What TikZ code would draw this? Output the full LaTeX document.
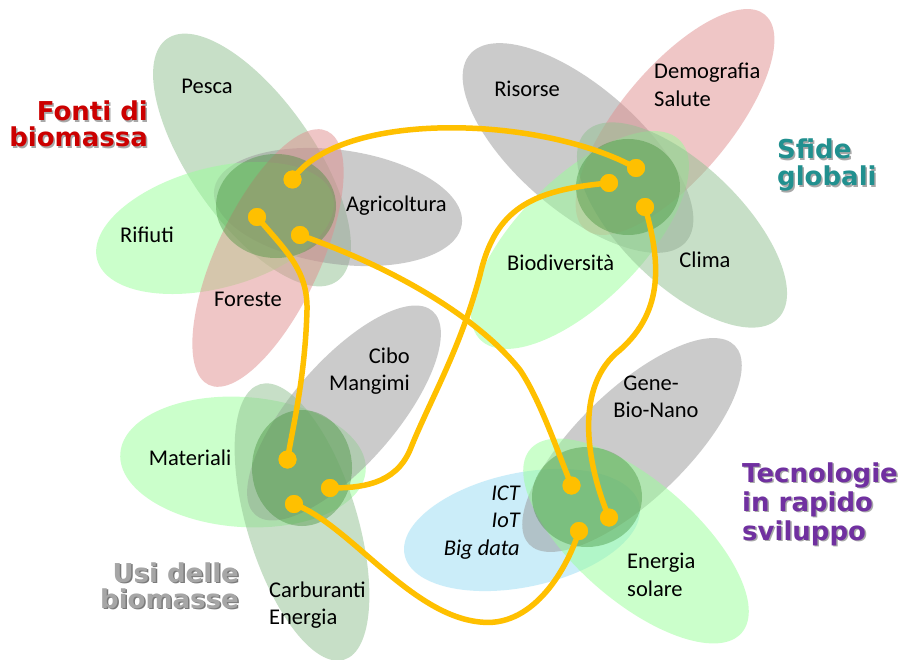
\documentclass[tikz,border=0pt]{standalone}
\usepackage{fontspec}
\setmainfont{Carlito}
\newfontfamily\ttlfont{DejaVu Sans}
\definecolor{cgray}{HTML}{999999}
\definecolor{cgreen}{HTML}{99FF99}
\definecolor{cpink}{HTML}{E08F8F}
\definecolor{csage}{HTML}{91C191}
\definecolor{cblue}{HTML}{99DDF5}
\definecolor{cblob}{HTML}{3A8A30}
\definecolor{cyel}{HTML}{FFC000}
\definecolor{tred}{HTML}{CC0000}
\definecolor{tteal}{HTML}{21908F}
\definecolor{tpurple}{HTML}{7030A0}
\definecolor{tgray}{HTML}{A6A6A6}
\definecolor{tshadow}{HTML}{A8A8A8}
\definecolor{tshadowdk}{HTML}{7A7A7A}
\tikzset{
  lbl/.style={font=\fontsize{22.5}{27}\selectfont, inner sep=0pt, text=black},
  lbli/.style={font=\fontsize{22.5}{27}\selectfont\itshape, inner sep=0pt, text=black},
  ttl/.style={font=\ttlfont\bfseries\fontsize{26}{28}\selectfont, inner sep=0pt},
  conn/.style={draw=cyel, line width=5.5pt, line cap=round},
  dot/.style={circle, fill=cyel, minimum size=18pt, inner sep=0pt},
  oval/.style={fill opacity=0.5},
  blob/.style={fill=cblob, fill opacity=0.38},
}
\begin{document}
\begin{tikzpicture}[x=1pt,y=-1pt]
\useasboundingbox (0,0) rectangle (901,660);
\fill[white] (0,0) rectangle (901,660);

% ---------- cluster 1: Fonti di biomassa ----------
\fill[csage, oval, rotate around={-55:(252,160)}] (252,160) ellipse [x radius=148, y radius=62];
\fill[cgray, oval, rotate around={-8:(338,207)}] (338,207) ellipse [x radius=125, y radius=57];
\fill[cgreen, oval, rotate around={15:(215,228)}] (215,228) ellipse [x radius=122, y radius=60];
\fill[cpink, oval, rotate around={65:(268,258)}] (268,258) ellipse [x radius=140, y radius=52];
\fill[blob] (276,206) ellipse [x radius=60, y radius=52];

% ---------- cluster 2: Sfide globali ----------
\fill[cgray, oval, rotate around={-41:(578,148)}] (578,148) ellipse [x radius=143, y radius=62];
\fill[cpink, oval, rotate around={50:(675,122)}] (675,122) ellipse [x radius=140, y radius=55];
\fill[cgreen, oval, rotate around={45:(580,240)}] (580,240) ellipse [x radius=141, y radius=62];
\fill[csage, oval, rotate around={-44:(682,225)}] (682,225) ellipse [x radius=134, y radius=60];
\fill[blob] (628,187) ellipse [x radius=52, y radius=48];

% ---------- cluster 3: Usi delle biomasse ----------
\fill[cgreen, oval, rotate around={-4:(243,462)}] (243,462) ellipse [x radius=123, y radius=65];
\fill[cgray, oval, rotate around={49:(344,413)}] (344,413) ellipse [x radius=135, y radius=52];
\fill[csage, oval, rotate around={-73:(302,522)}] (302,522) ellipse [x radius=144, y radius=55];
\fill[blob] (302,468) ellipse [x radius=50, y radius=58];

% ---------- cluster 4: Tecnologie ----------
\fill[cblue, oval, rotate around={12:(522,530)}] (522,530) ellipse [x radius=120, y radius=57];
\fill[cgray, oval, rotate around={44:(632,445)}] (632,445) ellipse [x radius=143, y radius=55];
\fill[cgreen, oval, rotate around={-41:(636,541)}] (636,541) ellipse [x radius=140, y radius=60];
\fill[blob] (587,497) ellipse [x radius=55, y radius=50];

% ---------- labels ----------
\node[lbl, anchor=base] (pesca) at (207,94) {Pesca};
\node[lbl, anchor=base west] (agri) at (346,212) {Agricoltura};
\node[lbl, anchor=base] (rifiuti) at (147,243) {Rifiuti};
\node[lbl, anchor=base east] (foreste) at (282,306) {Foreste};
\node[lbl, anchor=base] (risorse) at (527,97) {Risorse};
\node[lbl, anchor=base west] (demo) at (654,79) {Demografia};
\node[lbl, anchor=base west] (salute) at (654,107) {Salute};
\node[lbl, anchor=base west] (biodiv) at (507,270) {Biodiversità};
\node[lbl, anchor=base] (clima) at (705,267) {Clima};
\node[lbl, anchor=base east] (cibo) at (410,363) {Cibo};
\node[lbl, anchor=base east] (mangimi) at (410,390) {Mangimi};
\node[lbl, anchor=base] (materiali) at (190,465) {Materiali};
\node[lbl, anchor=base west] (carbur) at (269,597) {Carburanti};
\node[lbl, anchor=base west] (energia1) at (269,624) {Energia};
\node[lbl, anchor=base] (gene) at (651,390) {Gene-};
\node[lbl, anchor=base] (bionano) at (656,417) {Bio-Nano};
\node[lbli, anchor=base east] (ict) at (520,500) {ICT};
\node[lbli, anchor=base east] (iot) at (520,527) {IoT};
\node[lbli, anchor=base east] (bigdata) at (520,555) {Big data};
\node[lbl, anchor=base west] (energia2) at (627,568) {Energia};
\node[lbl, anchor=base west] (solare) at (627,596) {solare};

% ---------- titles (with shadow) ----------
\node[ttl, text=tshadow, anchor=base east] (t1as) at (149.5,122.5) {Fonti di};
\node[ttl, text=tshadow, anchor=base east] (t1bs) at (149.5,148.5) {biomassa};
\node[ttl, text=tred, anchor=base east] (t1a) at (148,121) {Fonti di};
\node[ttl, text=tred, anchor=base east] (t1b) at (148,147) {biomassa};

\node[ttl, text=tshadow, anchor=base west] (t2as) at (778.5,160.5) {Sfide};
\node[ttl, text=tshadow, anchor=base west] (t2bs) at (778.5,187.5) {globali};
\node[ttl, text=tteal, anchor=base west] (t2a) at (777,159) {Sfide};
\node[ttl, text=tteal, anchor=base west] (t2b) at (777,186) {globali};

\node[ttl, text=tshadow, anchor=base west] (t3as) at (743.5,483.5) {Tecnologie};
\node[ttl, text=tshadow, anchor=base west] (t3bs) at (743.5,512.5) {in rapido};
\node[ttl, text=tshadow, anchor=base west] (t3cs) at (743.5,541.5) {sviluppo};
\node[ttl, text=tpurple, anchor=base west] (t3a) at (742,482) {Tecnologie};
\node[ttl, text=tpurple, anchor=base west] (t3b) at (742,511) {in rapido};
\node[ttl, text=tpurple, anchor=base west] (t3c) at (742,540) {sviluppo};

\node[ttl, text=tshadowdk, anchor=base east] (t4as) at (240.5,583.5) {Usi delle};
\node[ttl, text=tshadowdk, anchor=base east] (t4bs) at (240.5,609.5) {biomasse};
\node[ttl, text=tgray, anchor=base east] (t4a) at (239,582) {Usi delle};
\node[ttl, text=tgray, anchor=base east] (t4b) at (239,608) {biomasse};

% ---------- dots ----------
\node[dot] (A) at (292.5,179.5) {};
\node[dot] (B) at (257,217) {};
\node[dot] (C) at (300,235) {};
\node[dot] (D) at (636,168) {};
\node[dot] (E) at (609,183) {};
\node[dot] (F) at (645,207) {};
\node[dot] (G) at (287.5,459.5) {};
\node[dot] (H) at (330,488) {};
\node[dot] (I) at (294,504) {};
\node[dot] (J) at (571.5,485.5) {};
\node[dot] (K) at (609,517.5) {};
\node[dot] (L) at (579,531) {};

% ---------- connectors ----------
\draw[conn] (A.center) .. controls (340,110) and (540,115) .. (D.center);
\draw[conn] (B.center) .. controls (285,250) and (308,270) .. (307,310) .. controls (305,380) and (292,430) .. (G.center);
\draw[conn] (C.center) .. controls (400,270) and (480,320) .. (520,370) .. controls (540,400) and (555,445) .. (J.center);
\draw[conn] (E.center) .. controls (530,190) and (495,210) .. (480,275) .. controls (460,350) and (430,400) .. (410,450) .. controls (395,485) and (360,488) .. (H.center);
\draw[conn] (F.center) .. controls (660,260) and (665,310) .. (620,350) .. controls (575,385) and (585,460) .. (K.center);
\draw[conn] (I.center) .. controls (350,525) and (410,615) .. (480,622) .. controls (530,628) and (565,575) .. (L.center);

% redraw dots on top
\foreach \n in {A,B,C,D,E,F,G,H,I,J,K,L}
  \fill[cyel] (\n.center) circle [radius=9];
\end{tikzpicture}
\end{document}
